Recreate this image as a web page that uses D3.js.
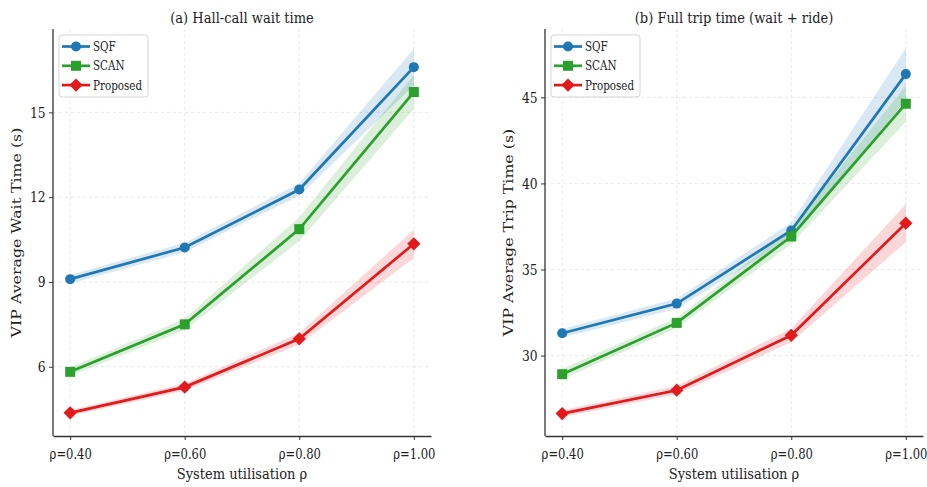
<!DOCTYPE html>
<html>
<head>
<meta charset="utf-8">
<script src="https://cdn.jsdelivr.net/npm/d3@7"></script>
<style>
  body { margin: 0; background: #fff; }
  svg text { font-family: "DejaVu Serif", serif; fill: #222; }
</style>
</head>
<body>
<svg id="chart" width="927" height="487"></svg>
<script>
var categories = ['ρ=0.40', 'ρ=0.60', 'ρ=0.80', 'ρ=1.00'];
var seriesNames = ['SQF', 'SCAN', 'Proposed'];

// (a) hall-call wait time, means and half-width of band
var waitSQF = [9.1, 10.22, 12.27, 16.6];
var waitSCAN = [5.82, 7.5, 10.87, 15.72];
var waitProposed = [4.37, 5.28, 6.99, 10.35];
var waitSQFErr = [0.15, 0.17, 0.22, 0.65];
var waitSCANErr = [0.15, 0.2, 0.42, 0.6];
var waitProposedErr = [0.1, 0.13, 0.2, 0.5];
var waitTicks = [6, 9, 12, 15];

// (b) full trip time
var tripSQF = [31.3, 33.02, 37.27, 46.35];
var tripSCAN = [28.92, 31.9, 36.92, 44.63];
var tripProposed = [26.63, 27.99, 31.18, 37.69];
var tripSQFErr = [0.25, 0.3, 0.45, 1.5];
var tripSCANErr = [0.3, 0.3, 0.45, 1.05];
var tripProposedErr = [0.2, 0.25, 0.4, 1.1];
var tripTicks = [30, 35, 40, 45];

var colors = ['#1f77b4', '#2ca02c', '#e31a1c'];
var markers = ['circle', 'square', 'diamond'];

// the picture is squeezed sideways, so text is narrowed a bit
var squeeze = 0.87;

var svg = d3.select('#chart');

var drawMarker = (g, kind, x, y, c) => {
  if (kind === 'circle') {
    g.append('circle').attr('cx', x).attr('cy', y).attr('r', 5).attr('fill', c);
  } else if (kind === 'square') {
    g.append('rect').attr('x', x - 5).attr('y', y - 5).attr('width', 10).attr('height', 10).attr('fill', c);
  } else {
    g.append('path')
      .attr('d', d3.symbol().type(d3.symbolSquare).size(88)())
      .attr('transform', `translate(${ x },${ y }) rotate(45)`)
      .attr('fill', c);
  }
};

var label = (g, x, y, size, txt, sx) => g.append('text')
  .attr('transform', `translate(${ x },${ y }) scale(${ sx || squeeze },1)`)
  .attr('font-size', size)
  .text(txt);

var panel = (left, opts) => {
  let w = 378, h = 407, top = 29;

  let x = d3.scalePoint().domain(categories).range([0, w]).padding(0.15);
  let y = d3.scaleLinear().domain(opts.domain).range([h, 0]);

  let g = svg.append('g').attr('transform', `translate(${ left },${ top })`);

  // grid
  g.selectAll('.gy').data(opts.ticks).enter().append('line')
    .attr('x1', 0).attr('x2', w)
    .attr('y1', (d) => y(d)).attr('y2', (d) => y(d))
    .attr('stroke', '#e2e2e2').attr('stroke-width', 0.8).attr('stroke-dasharray', '3,3');
  g.selectAll('.gx').data(categories).enter().append('line')
    .attr('x1', (d) => x(d)).attr('x2', (d) => x(d))
    .attr('y1', 0).attr('y2', h)
    .attr('stroke', '#e2e2e2').attr('stroke-width', 0.8).attr('stroke-dasharray', '3,3');

  // bands + lines + markers
  opts.series.forEach((s, i) => {
    let pts = categories.map((c, j) => ({ c: c, v: s[j], e: opts.errs[i][j] }));

    g.append('path')
      .datum(pts)
      .attr('fill', colors[i]).attr('fill-opacity', 0.17)
      .attr('d', d3.area().x((d) => x(d.c)).y0((d) => y(d.v - d.e)).y1((d) => y(d.v + d.e)));

    g.append('path')
      .datum(pts)
      .attr('fill', 'none').attr('stroke', colors[i]).attr('stroke-width', 2.7)
      .attr('d', d3.line().x((d) => x(d.c)).y((d) => y(d.v)));

    pts.forEach((d) => drawMarker(g, markers[i], x(d.c), y(d.v), colors[i]));
  });

  // axes
  let ax = g.append('g').attr('transform', `translate(0,${ h })`)
    .call(d3.axisBottom(x).tickSize(4).tickPadding(8).tickSizeOuter(0));
  let ay = g.append('g')
    .call(d3.axisLeft(y).tickValues(opts.ticks).tickSize(4).tickPadding(5).tickSizeOuter(0));
  [ax, ay].forEach((a) => {
    a.select('.domain').attr('stroke', '#333').attr('stroke-width', 1.3);
    a.selectAll('.tick line').attr('stroke', '#333');
    a.selectAll('.tick text').attr('font-size', 15).attr('fill', '#222')
      .style('font-family', '"DejaVu Serif", serif');
  });
  ax.selectAll('.tick text').attr('transform', 'scale(0.77,1)');
  ay.selectAll('.tick text').attr('transform', 'scale(0.82,1)');
  ay.select('.domain').attr('d', `M0,${ h }V0`);

  // title and labels
  label(g, w / 2, -6, 15, opts.title).attr('text-anchor', 'middle');
  label(g, w / 2, h + 43, 15, 'System utilisation ρ').attr('text-anchor', 'middle');
  g.append('text')
    .attr('transform', `translate(${ opts.ylabelX },${ h / 2 }) rotate(-90) scale(1,${ squeeze })`)
    .attr('text-anchor', 'middle').attr('font-size', 15.8).text(opts.ylabel);

  // legend
  let lg = g.append('g').attr('transform', 'translate(6,6)');
  lg.append('rect').attr('width', 89).attr('height', 62).attr('rx', 3)
    .attr('fill', '#fff').attr('fill-opacity', 0.85).attr('stroke', '#d5d5d5');
  seriesNames.forEach((n, i) => {
    let yy = 11.5 + i * 19.3;
    lg.append('line').attr('x1', 3).attr('x2', 31).attr('y1', yy).attr('y2', yy)
      .attr('stroke', colors[i]).attr('stroke-width', 2.7);
    drawMarker(lg, markers[i], 17, yy, colors[i]);
    label(lg, 34, yy + 4.5, 12.5, n, 0.83);
  });
};

panel(53, {
  domain: [3.55, 17.95],
  ticks: waitTicks,
  series: [waitSQF, waitSCAN, waitProposed],
  errs: [waitSQFErr, waitSCANErr, waitProposedErr],
  title: '(a) Hall-call wait time',
  ylabel: 'VIP Average Wait Time (s)',
  ylabelX: -32
});

panel(545, {
  domain: [25.33, 48.97],
  ticks: tripTicks,
  series: [tripSQF, tripSCAN, tripProposed],
  errs: [tripSQFErr, tripSCANErr, tripProposedErr],
  title: '(b) Full trip time (wait + ride)',
  ylabel: 'VIP Average Trip Time (s)',
  ylabelX: -32
});
</script>
</body>
</html>
